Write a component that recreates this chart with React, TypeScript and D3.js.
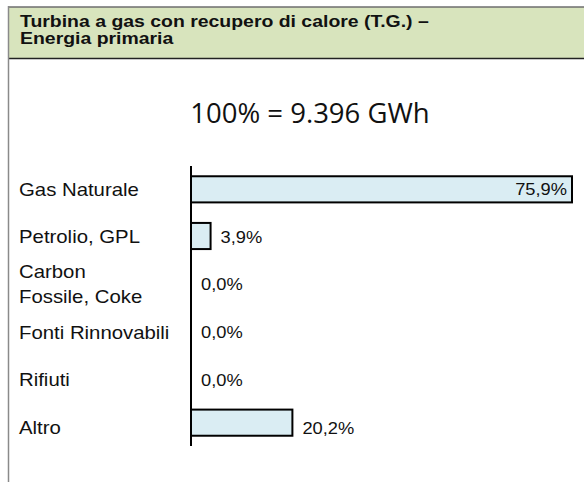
import React, { useEffect, useRef } from 'react';
import * as d3 from 'd3';

const categories = ['Gas Naturale', 'Petrolio, GPL', 'Carbon\nFossile, Coke', 'Fonti Rinnovabili', 'Rifiuti', 'Altro'];
const shares = [75.9, 3.9, 0.0, 0.0, 0.0, 20.2];
const headerLines = ['Turbina a gas con recupero di calore (T.G.) –', 'Energia primaria'];
const totalLabel = '100% = 9.396 GWh';

const W = 584;
const H = 482;
const SX = 1.15; // text in the reference is stretched horizontally

export default function App() {
  const svgRef = useRef<SVGSVGElement>(null);

  useEffect(() => {
    if (!svgRef.current) return;
    const svg = d3.select(svgRef.current);
    svg.selectAll('*').remove();

    // header band
    svg.append('rect').attr('x', 8).attr('y', 7).attr('width', W - 8).attr('height', 51).attr('fill', '#d8e4bd');
    svg.append('line').attr('x1', 8).attr('x2', W).attr('y1', 7).attr('y2', 7).attr('stroke', '#6e6e6e').attr('stroke-width', 1.5);
    svg.append('line').attr('x1', 8).attr('x2', W).attr('y1', 58.5).attr('y2', 58.5).attr('stroke', '#222').attr('stroke-width', 1.5);
    svg.append('line').attr('x1', 8.5).attr('x2', 8.5).attr('y1', 6).attr('y2', H).attr('stroke', '#8a8a8a').attr('stroke-width', 1.5);

    headerLines.forEach((t, i) => {
      svg.append('text')
        .attr('transform', `translate(20, ${26.5 + i * 17}) scale(${SX}, 1)`)
        .attr('font-family', 'Liberation Sans, Arial, sans-serif')
        .attr('font-weight', 'bold')
        .attr('font-size', 16.9)
        .attr('fill', '#111')
        .text(t);
    });

    svg.append('text')
      .attr('x', 310).attr('y', 123)
      .attr('text-anchor', 'middle')
      .attr('font-family', 'Open Sans, sans-serif')
      .attr('font-size', 27.5)
      .attr('fill', '#111')
      .text(totalLabel);

    const x = d3.scaleLinear().domain([0, 75.9]).range([191, 572]);
    const y = d3.scaleBand().domain(categories).range([166, 446]).paddingInner(0.44).paddingOuter(0.22);
    // category text boxes sit on a slightly wider pitch than the bars
    const ly = d3.scalePoint().domain(categories).range([189, 427.5]);

    const g = svg.append('g');

    categories.forEach((c, i) => {
      const lines = c.split('\n');
      const lt = g.append('text')
        .attr('transform', `translate(19, ${ly(c)! + 6.5 - (lines.length - 1) * 12.5}) scale(${SX}, 1)`)
        .attr('font-family', 'Liberation Sans, Arial, sans-serif')
        .attr('font-size', 17.7)
        .attr('fill', '#111');
      lines.forEach((l, j) => {
        lt.append('tspan').attr('x', 0).attr('dy', j === 0 ? 0 : 25).text(l);
      });

      const v = shares[i];
      if (v > 0) {
        g.append('rect')
          .attr('x', x(0)).attr('y', y(c)!)
          .attr('width', x(v) - x(0)).attr('height', y.bandwidth())
          .attr('fill', '#daedf3').attr('stroke', '#000').attr('stroke-width', 2);
      }
      const inside = v > 50;
      const lx = inside ? x(v) - 5 : x(v) + 10;
      g.append('text')
        .attr('transform', `translate(${lx}, ${ly(c)! + 6}) scale(${SX}, 1)`)
        .attr('text-anchor', inside ? 'end' : 'start')
        .attr('font-family', 'Liberation Sans, Arial, sans-serif')
        .attr('font-size', 15.9)
        .attr('fill', '#111')
        .text(v.toFixed(1).replace('.', ',') + '%');
    });

    g.append('line')
      .attr('x1', x(0)).attr('x2', x(0))
      .attr('y1', 166).attr('y2', 446)
      .attr('stroke', '#000').attr('stroke-width', 2);
  }, []);

  return (
    <div style={{ position: 'absolute', left: 0, top: 0 }}>
      <svg ref={svgRef} width={W} height={H} style={{ display: 'block', background: '#fff' }} />
    </div>
  );
}
